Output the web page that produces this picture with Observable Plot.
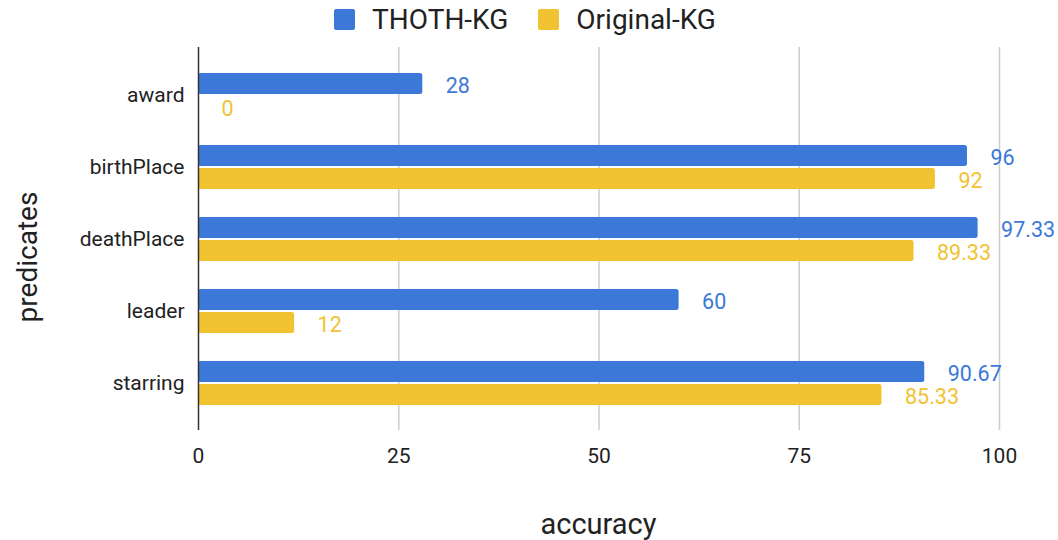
<!DOCTYPE html>
<html>
<head>
<meta charset="utf-8">
<script src="https://cdn.jsdelivr.net/npm/d3@7"></script>
<script src="https://cdn.jsdelivr.net/npm/@observablehq/plot@0.6"></script>
<style>
  body { margin: 0; background: #fff; font-family: Roboto, sans-serif; }
  #wrap { width: 1058px; height: 540px; position: relative; }
  #legend { height: 38px; display: flex; align-items: center; justify-content: center; box-sizing: border-box; font-size: 28px; color: #222; padding-right: 8px; }
  .item { display: flex; align-items: center; margin: 0 15px; }
  .sw { width: 21px; height: 21px; border-radius: 2px; margin-right: 17px; }
</style>
</head>
<body>
<div id="wrap">
  <div id="legend"></div>
  <div id="chart"></div>
</div>
<script>
const predicates = ["award", "birthPlace", "deathPlace", "leader", "starring"];
const thothKG = [28, 96, 97.33, 60, 90.67];
const originalKG = [0, 92, 89.33, 12, 85.33];
const seriesNames = ["THOTH-KG", "Original-KG"];
const seriesColors = ["#3c78d8", "#f1c232"];
const xTicks = [0, 25, 50, 75, 100];
const gridTicks = [25, 50, 75, 100];

const thothData = predicates.map((p, i) => ({predicate: p, value: thothKG[i]}));
const origData = predicates.map((p, i) => ({predicate: p, value: originalKG[i]}));

// legend
const legend = document.getElementById("legend");
seriesNames.forEach((name, i) => {
  const it = document.createElement("div");
  it.className = "item";
  const sw = document.createElement("div");
  sw.className = "sw";
  sw.style.background = seriesColors[i];
  const tx = document.createElement("span");
  tx.textContent = name;
  it.appendChild(sw); it.appendChild(tx);
  legend.appendChild(it);
});

const W = 1058, H = 502;
const mTop = 9, mBottom = 110, mLeft = 198, mRight = 59;

const chart = Plot.plot({
  width: W,
  height: H,
  marginTop: mTop,
  marginBottom: mBottom,
  marginLeft: mLeft,
  marginRight: mRight,
  style: {fontFamily: "Roboto, sans-serif", fontSize: "21px", color: "#222", background: "#fff"},
  x: {domain: [0, 100], ticks: xTicks, tickSize: 0, tickPadding: 18, label: null},
  y: {domain: predicates, paddingInner: 0.39, paddingOuter: 0.35, tickSize: 0, tickPadding: 14, label: null},
  marks: [
    Plot.gridX(gridTicks, {stroke: "#cccccc", strokeOpacity: 1, strokeWidth: 1.5}),
    Plot.barX(thothData, {x: "value", y: "predicate", fill: seriesColors[0], insetBottom: 23, rx: 2.5}),
    Plot.barX(origData, {x: "value", y: "predicate", fill: seriesColors[1], insetTop: 23, rx: 2.5}),
    Plot.ruleX([0], {stroke: "#333", strokeWidth: 1.5}),
    Plot.text(thothData, {x: "value", y: "predicate", text: d => String(d.value), dx: 23, dy: -9, textAnchor: "start", fill: seriesColors[0], fontSize: 21.5}),
    Plot.text(origData, {x: "value", y: "predicate", text: d => String(d.value), dx: 23, dy: 14, textAnchor: "start", fill: seriesColors[1], fontSize: 21.5})
  ]
});

const svg = d3.select(chart);
svg.append("text")
  .attr("x", (mLeft + (W - mRight)) / 2)
  .attr("y", 524 - 38)
  .attr("text-anchor", "middle")
  .attr("dominant-baseline", "central")
  .attr("font-size", 29)
  .attr("fill", "#222")
  .text("accuracy");
svg.append("text")
  .attr("transform", `translate(27, ${257 - 38}) rotate(-90)`)
  .attr("text-anchor", "middle")
  .attr("dominant-baseline", "central")
  .attr("font-size", 28)
  .attr("fill", "#222")
  .text("predicates");

document.getElementById("chart").appendChild(chart);
</script>
</body>
</html>
